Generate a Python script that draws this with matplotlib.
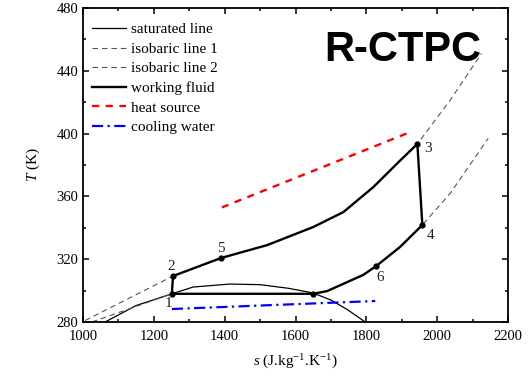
# T-s diagram of the R-CTPC cycle with heat source and cooling water lines

import numpy as np
import matplotlib.pyplot as plt
from matplotlib.ticker import MultipleLocator

plt.rcParams['font.family'] = ['Liberation Serif', 'DejaVu Serif']
plt.rcParams['mathtext.fontset'] = 'custom'
plt.rcParams['mathtext.it'] = 'Liberation Serif:italic'
plt.rcParams['mathtext.rm'] = 'Liberation Serif'

# saturation dome
sat_s = [1062, 1150, 1251, 1311, 1415, 1500, 1580, 1650, 1700, 1746, 1797]
sat_T = [280, 290.5, 298, 302.3, 304.2, 303.8, 301.5, 298.5, 294, 288, 280]

# high pressure isobar (through 2, 5, 3)
iso1_s = [1006, 1254, 1390, 1520, 1650, 1735, 1820, 1896, 1944, 2037, 2125]
iso1_T = [281, 309.3, 320.8, 329, 340.5, 350, 366, 383, 393.4, 421.4, 451]

# low pressure isobar (through 1, 6, 4)
iso2_s = [1025, 1251, 1650, 1689, 1791, 1828, 1895, 1958, 2037, 2144]
iso2_T = [280, 298, 298, 299.7, 310, 315.7, 327.8, 341.8, 362, 397]

# working fluid cycle 1-2-5-3-4-6-1
wf_s = [1251, 1254, 1390, 1520, 1650, 1735, 1820, 1896, 1944, 1958, 1895,
        1828, 1791, 1689, 1650, 1251]
wf_T = [298, 309.3, 320.8, 329, 340.5, 350, 366, 383, 393.4, 341.8, 327.8,
        315.7, 310, 299.7, 298, 298]

# state points
pt_s = [1251, 1254, 1944, 1958, 1390, 1828, 1650]
pt_T = [298, 309.3, 393.4, 341.8, 320.8, 315.7, 298]
pt_lab = ['1', '2', '3', '4', '5', '6', '']
pt_off = [(-5, -12), (-4, 2), (5, -8), (3, -12), (-3, 2), (0, -13), (0, 0)]

# heat source and cooling water
hs_s = [1392, 1924]
hs_T = [353, 401]
cw_s = [1251, 1825]
cw_T = [288.3, 293.4]

fig = plt.figure(figsize=(5.32, 3.78), dpi=100)
ax = fig.add_axes([0.156, 0.148, 0.799, 0.831])

ax.plot(sat_s, sat_T, color='black', lw=0.9, label='saturated line')
ax.plot(iso1_s, iso1_T, color='#555555', lw=0.8, dashes=(5, 3.5), label='isobaric line 1')
ax.plot(iso2_s, iso2_T, color='#555555', lw=0.8, dashes=(5, 3.5), label='isobaric line 2')
ax.plot(wf_s, wf_T, color='black', lw=1.7, label='working fluid')
ax.plot(hs_s, hs_T, color='red', lw=1.7, dashes=(3, 2.8), label='heat source')
ax.plot(cw_s, cw_T, color='blue', lw=1.6, dashes=(5, 2, 1, 2), label='cooling water')

ax.plot(pt_s, pt_T, 'o', color='black', ms=3.5)
for s, T, lab, off in zip(pt_s, pt_T, pt_lab, pt_off):
    ax.annotate(lab, (s, T), xytext=off, textcoords='offset points',
                fontsize=11, color='#222222', ha='left', va='bottom')

ax.set_xlim(1000, 2200)
ax.set_ylim(280, 480)
ax.xaxis.set_major_locator(MultipleLocator(200))
ax.xaxis.set_minor_locator(MultipleLocator(100))
ax.yaxis.set_major_locator(MultipleLocator(40))
ax.yaxis.set_minor_locator(MultipleLocator(20))
ax.tick_params(which='both', direction='in', top=True, right=True,
               labelsize=10.5, width=1.1)
ax.tick_params(which='major', length=4.5)
ax.tick_params(axis='x', pad=6)
ax.tick_params(which='minor', length=2.5)
for sp in ax.spines.values():
    sp.set_linewidth(1.3)

ax.set_xlabel(r'$s$ (J.kg$^{\mathrm{-1}}$.K$^{\mathrm{-1}}$)', fontsize=11, labelpad=7)
ax.set_ylabel(r'$T$ (K)', fontsize=11, labelpad=10)

ax.text(0.752, 0.866, 'R-CTPC', transform=ax.transAxes, fontsize=30,
        fontweight='bold', family='Liberation Sans', ha='center', va='center')

ax.legend(loc='upper left', frameon=False, fontsize=11, handlelength=2.2,
          handletextpad=0.35, labelspacing=0.38, borderaxespad=0.2,
          bbox_to_anchor=(0.0, 0.982))

fig.savefig('out.png', dpi=100)
